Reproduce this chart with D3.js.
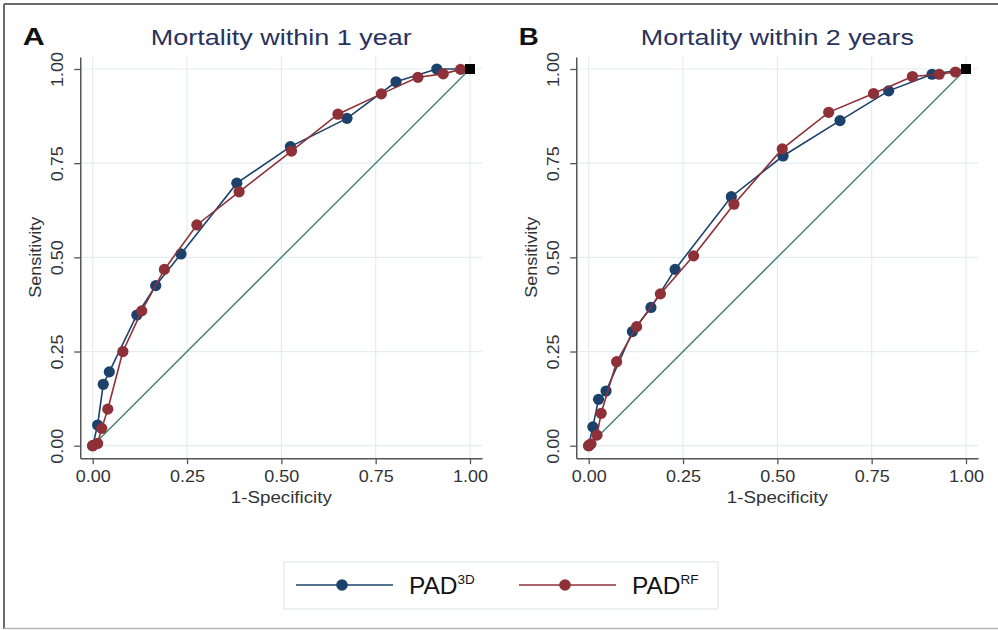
<!DOCTYPE html>
<html>
<head>
<meta charset="utf-8">
<script src="https://cdn.jsdelivr.net/npm/d3@7"></script>
<style>
    body { margin: 0; background: #fff; }
    svg { display: block; font-family: Arial, "Liberation Sans", Helvetica, sans-serif; }
</style>
</head>
<body>
<script>
// ---- data ----
const panelLetters = ["A", "B"];
const panelTitles = ["Mortality within 1 year", "Mortality within 2 years"];
const tickValues = [0, 0.25, 0.5, 0.75, 1];
const seriesNames = ["3D", "RF"];

// 1 year, PAD3D
const y1Pad3dX = [0, 0.013, 0.028, 0.044, 0.117, 0.167, 0.234, 0.382, 0.524, 0.674, 0.804, 0.912, 1];
const y1Pad3dY = [0, 0.055, 0.163, 0.196, 0.347, 0.425, 0.509, 0.697, 0.794, 0.869, 0.966, 1.0, 1];
// 1 year, PADRF
const y1PadRfX = [0, 0.013, 0.024, 0.040, 0.080, 0.130, 0.190, 0.276, 0.388, 0.527, 0.650, 0.765, 0.862, 0.929, 0.975, 1];
const y1PadRfY = [0, 0.006, 0.046, 0.097, 0.250, 0.358, 0.468, 0.586, 0.674, 0.782, 0.880, 0.934, 0.978, 0.987, 0.999, 1];
// 2 years, PAD3D
const y2Pad3dX = [0, 0.011, 0.026, 0.046, 0.116, 0.165, 0.229, 0.378, 0.515, 0.666, 0.795, 0.910, 1];
const y2Pad3dY = [0, 0.050, 0.123, 0.145, 0.303, 0.367, 0.468, 0.661, 0.769, 0.863, 0.942, 0.986, 1];
// 2 years, PADRF
const y2PadRfX = [0, 0.006, 0.022, 0.033, 0.074, 0.127, 0.190, 0.278, 0.385, 0.513, 0.636, 0.755, 0.858, 0.929, 0.972, 1];
const y2PadRfY = [0, 0.005, 0.028, 0.086, 0.223, 0.316, 0.403, 0.504, 0.641, 0.788, 0.885, 0.935, 0.980, 0.986, 0.992, 1];

const svgData = {
    "width": 998,
    "height": 630,
    "panelLeft": [92.7, 588.7],
    "plotWidth": 377.3,
    "yTop": 69,
    "yBottom": 445.7,
    "colors": ["#1c426c", "#8e3038"],
    "diag": "#4f8572",
    "grid": "#e3edf0",
    "axis": "#555",
    "title": "#28325c",
    // widths the texts take in the original (its font is wider than Arial)
    "titleLen": [261, 273],
    "letterLen": [22, 20]
}

const zip = (xs, ys) => xs.map((x, i) => [x, ys[i]]);
const panelSeries = [
    [zip(y1Pad3dX, y1Pad3dY), zip(y1PadRfX, y1PadRfY)],
    [zip(y2Pad3dX, y2Pad3dY), zip(y2PadRfX, y2PadRfY)]
];

const svg = d3.select("body").append("svg")
    .attr("width", svgData.width)
    .attr("height", svgData.height);

// frame round the figure (right edge is cut off in the original)
svg.append("line").attr("x1", 4).attr("y1", 4).attr("x2", 998).attr("y2", 4)
    .attr("stroke", "#6a6a6a").attr("stroke-width", 2);
svg.append("line").attr("x1", 4).attr("y1", 4).attr("x2", 4).attr("y2", 629)
    .attr("stroke", "#6a6a6a").attr("stroke-width", 2);
svg.append("line").attr("x1", 4).attr("y1", 628.5).attr("x2", 998).attr("y2", 628.5)
    .attr("stroke", "#b8b8b8").attr("stroke-width", 1.5);

const drawPanel = (p) => {
    const x0 = svgData.panelLeft[p];
    const scaleX = d3.scaleLinear().domain([0, 1]).range([x0, x0 + svgData.plotWidth]);
    const scaleY = d3.scaleLinear().domain([0, 1]).range([svgData.yBottom, svgData.yTop]);
    const lo = -0.033, hi = 1.032;
    const g = svg.append("g");

    // grid
    g.selectAll(".gx").data(tickValues).enter().append("line")
        .attr("x1", d => scaleX(d)).attr("x2", d => scaleX(d))
        .attr("y1", scaleY(lo)).attr("y2", scaleY(hi))
        .attr("stroke", svgData.grid).attr("stroke-width", 1.2);
    g.selectAll(".gy").data(tickValues).enter().append("line")
        .attr("y1", d => scaleY(d)).attr("y2", d => scaleY(d))
        .attr("x1", scaleX(lo)).attr("x2", scaleX(hi))
        .attr("stroke", svgData.grid).attr("stroke-width", 1.2);

    // axes
    const axX = d3.scaleLinear().domain([lo, hi]).range([scaleX(lo), scaleX(hi)]);
    const axY = d3.scaleLinear().domain([lo, hi]).range([scaleY(lo), scaleY(hi)]);
    const xAxis = g.append("g")
        .attr("transform", "translate(0," + scaleY(lo) + ")")
        .call(d3.axisBottom(axX).tickValues(tickValues).tickSize(6).tickSizeOuter(0)
            .tickFormat(d3.format(".2f")));
    const yAxis = g.append("g")
        .attr("transform", "translate(" + scaleX(lo) + ",0)")
        .call(d3.axisLeft(axY).tickValues(tickValues).tickSize(6).tickSizeOuter(0)
            .tickFormat(d3.format(".2f")));
    [xAxis, yAxis].forEach(a => {
        a.select(".domain").attr("stroke", svgData.axis).attr("stroke-width", 1.5);
        a.selectAll(".tick line").attr("stroke", svgData.axis).attr("stroke-width", 1.3);
        a.selectAll(".tick text").attr("fill", "#333").style("font-size", "16.5px")
            .attr("font-family", "Arial, 'Liberation Sans', sans-serif")
            .attr("textLength", 35).attr("lengthAdjust", "spacingAndGlyphs");
    });
    xAxis.selectAll(".tick text").attr("y", 12.5);
    yAxis.selectAll(".tick text")
        .attr("x", null).attr("dy", null)
        .attr("text-anchor", "middle")
        .attr("transform", "translate(-17,0) rotate(-90)");

    // axis titles
    g.append("text")
        .attr("x", (scaleX(0) + scaleX(1)) / 2).attr("y", 503)
        .attr("text-anchor", "middle").attr("fill", "#333").style("font-size", "16px")
        .attr("textLength", 101).attr("lengthAdjust", "spacingAndGlyphs")
        .text("1-Specificity");
    g.append("text")
        .attr("transform", "translate(" + (x0 - 52) + "," + ((scaleY(0) + scaleY(1)) / 2) + ") rotate(-90)")
        .attr("text-anchor", "middle").attr("fill", "#333").style("font-size", "16px")
        .attr("textLength", 81).attr("lengthAdjust", "spacingAndGlyphs")
        .text("Sensitivity");

    // panel letter and title
    g.append("text")
        .attr("x", x0 - 70).attr("y", 45)
        .attr("font-weight", "bold").style("font-size", "23px").attr("fill", "#111")
        .attr("textLength", svgData.letterLen[p]).attr("lengthAdjust", "spacingAndGlyphs")
        .text(panelLetters[p]);
    g.append("text")
        .attr("x", (scaleX(0) + scaleX(1)) / 2).attr("y", 45)
        .attr("text-anchor", "middle").style("font-size", "22px").attr("fill", svgData.title)
        .attr("textLength", svgData.titleLen[p]).attr("lengthAdjust", "spacingAndGlyphs")
        .text(panelTitles[p]);

    // reference diagonal
    g.append("line")
        .attr("x1", scaleX(0)).attr("y1", scaleY(0))
        .attr("x2", scaleX(1)).attr("y2", scaleY(1))
        .attr("stroke", svgData.diag).attr("stroke-width", 1.5);

    const line = d3.line().x(d => scaleX(d[0])).y(d => scaleY(d[1]));
    panelSeries[p].forEach((s, i) => {
        g.append("path").datum(s)
            .attr("d", line)
            .attr("fill", "none")
            .attr("stroke", svgData.colors[i])
            .attr("stroke-width", 1.6);
        g.selectAll(".pt" + i).data(s.slice(0, -1)).enter().append("circle")
            .attr("cx", d => scaleX(d[0])).attr("cy", d => scaleY(d[1]))
            .attr("r", 5.6)
            .attr("fill", svgData.colors[i]);
    });

    // black square at (1, 1)
    g.append("rect")
        .attr("x", scaleX(1) - 5).attr("y", scaleY(1) - 5)
        .attr("width", 10).attr("height", 10)
        .attr("fill", "#000");
}

drawPanel(0);
drawPanel(1);

// legend
const legend = svg.append("g");
legend.append("rect")
    .attr("x", 284).attr("y", 562).attr("width", 434).attr("height", 47)
    .attr("fill", "#fff").attr("stroke", "#dfe7e9").attr("stroke-width", 1.2);
const legendX = [296, 519];
seriesNames.forEach((name, i) => {
    const lx = legendX[i];
    legend.append("line")
        .attr("x1", lx).attr("x2", lx + 97).attr("y1", 585).attr("y2", 585)
        .attr("stroke", svgData.colors[i]).attr("stroke-width", 1.6);
    legend.append("circle")
        .attr("cx", lx + 46).attr("cy", 585).attr("r", 5.8)
        .attr("fill", svgData.colors[i]);
    const t = legend.append("text")
        .attr("x", lx + 113).attr("y", 594)
        .attr("fill", "#111").style("font-size", "24.5px");
    t.append("tspan").text("PAD");
    t.append("tspan").attr("dy", -10).style("font-size", "13.5px").text(name);
});
</script>
</body>
</html>
